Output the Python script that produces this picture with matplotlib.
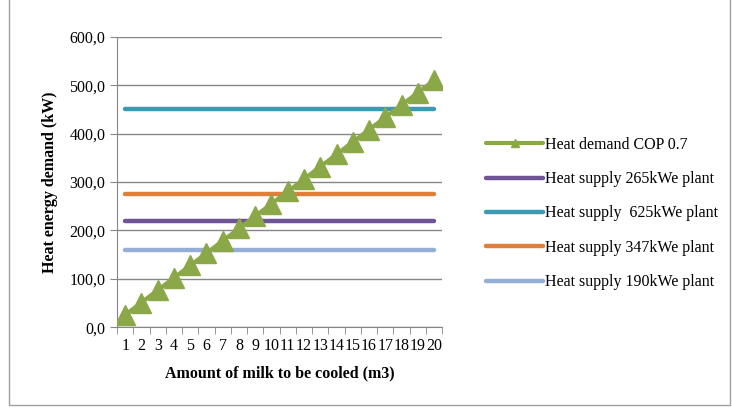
import matplotlib.pyplot as plt
from matplotlib.patches import Rectangle
import numpy as np

plt.rcParams['font.family'] = ['Liberation Serif', 'DejaVu Serif']

# data
milk = list(range(1, 21))
demand = [25.5, 51.0, 76.5, 102.0, 127.5, 153.0, 178.5, 204.0, 229.5, 255.0,
          280.5, 306.0, 331.5, 357.0, 382.5, 408.0, 433.5, 459.0, 484.5, 510.0]
supply_265 = [220.0] * 20
supply_625 = [450.0] * 20
supply_347 = [275.0] * 20
supply_190 = [160.0] * 20

fig = plt.figure(figsize=(7.32, 4.09), dpi=100)
ax = fig.add_axes([0.16, 0.2, 0.444, 0.71])

x = np.arange(len(milk))
ax.plot(x, demand, color='#8BA848', lw=3, marker='^', ms=15,
        label='Heat demand COP 0.7', solid_capstyle='round', zorder=5)
ax.plot(x, supply_265, color='#6E5494', lw=3.2, solid_capstyle='round',
        label='Heat supply 265kWe plant')
ax.plot(x, supply_625, color='#3C9AB2', lw=3.2, solid_capstyle='round',
        label='Heat supply  625kWe plant')
ax.plot(x, supply_347, color='#E07F3A', lw=3.2, solid_capstyle='round',
        label='Heat supply 347kWe plant')
ax.plot(x, supply_190, color='#95AED5', lw=3.2, solid_capstyle='round',
        label='Heat supply 190kWe plant')

ax.set_xlim(-0.5, len(milk) - 0.5)
ax.set_ylim(0, 600)
ax.set_yticks(np.arange(0, 601, 100))
ax.set_yticklabels([f'{v:.1f}'.replace('.', ',') for v in range(0, 601, 100)])
ax.set_xticks(x)
ax.set_xticklabels([str(m) for m in milk])
ax.set_xticks(np.arange(-0.5, len(milk), 1), minor=True)
ax.tick_params(axis='x', which='major', length=0, pad=8, labelsize=11.5)
ax.tick_params(axis='x', which='minor', length=5, color='#868686')
ax.tick_params(axis='y', length=5, color='#868686', labelsize=11.5)
ax.grid(axis='y', color='#868686', lw=1)
ax.set_axisbelow(True)
for s in ['top', 'right']:
    ax.spines[s].set_visible(False)
for s in ['left', 'bottom']:
    ax.spines[s].set_color('#868686')

ax.set_xlabel('Amount of milk to be cooled (m3)', fontsize=11.5, fontweight='bold', labelpad=8)
ax.set_ylabel('Heat energy demand (kW)', fontsize=11.5, fontweight='bold', labelpad=8)

leg = fig.legend(loc='center left', bbox_to_anchor=(0.644, 0.478), frameon=False,
                 fontsize=11.5, handlelength=3.6, labelspacing=1.15, handletextpad=0.1)
leg.legend_handles[0].set_markersize(6)

fig.patches.append(Rectangle((0.012, 0.01), 0.985, 1.2, transform=fig.transFigure,
                             fill=False, edgecolor='#A0A0A0', lw=1))

fig.savefig('out.png', dpi=100)
